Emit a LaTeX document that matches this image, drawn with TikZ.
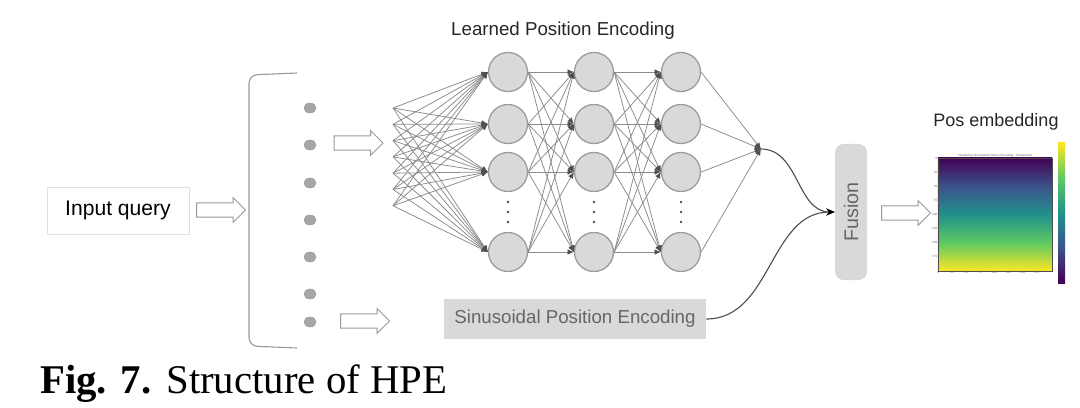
\documentclass[tikz,border=0pt]{standalone}
\usepackage{fontspec}
\setmainfont{Liberation Sans}
\newfontfamily\capfont{Liberation Serif}
\usetikzlibrary{positioning, arrows.meta, shapes.geometric, shapes.arrows}

\definecolor{boxfill}{HTML}{D9D9D9}
\definecolor{edgegray}{HTML}{9A9A9A}
\definecolor{linkgray}{HTML}{8C8C8C}
\definecolor{tipgray}{HTML}{4F4F4F}
\definecolor{textgray}{HTML}{666666}
\definecolor{vpurple}{HTML}{440154}
\definecolor{vblue}{HTML}{3B528B}
\definecolor{vteal}{HTML}{21918C}
\definecolor{vgreen}{HTML}{5EC962}
\definecolor{vyellow}{HTML}{FDE725}

% viridis, purple on top
\pgfdeclareverticalshading{viridisdown}{100bp}{color(0bp)=(vyellow); color(25bp)=(vyellow);
  color(37.5bp)=(vgreen); color(50bp)=(vteal); color(62.5bp)=(vblue);
  color(75bp)=(vpurple); color(100bp)=(vpurple)}
% viridis, yellow on top
\pgfdeclareverticalshading{viridisup}{100bp}{color(0bp)=(vpurple); color(25bp)=(vpurple);
  color(37.5bp)=(vblue); color(50bp)=(vteal); color(62.5bp)=(vgreen);
  color(75bp)=(vyellow); color(100bp)=(vyellow)}

\begin{document}
\begin{tikzpicture}[
    x=0.025cm, y=-0.025cm,
    label/.style={
        font=\fontsize{13.3}{15}\selectfont,
        text=black!85
    },
    inbox/.style={
        draw=black!12,
        minimum width=3.55cm,
        minimum height=1.175cm,
        font=\fontsize{15}{17}\selectfont
    },
    greybox/.style={
        fill=boxfill,
        text=textgray,
        inner sep=0pt
    },
    hollow/.style={
        single arrow,
        draw=edgegray,
        fill=white,
        line width=0.7pt,
        inner xsep=0pt,
        inner ysep=0.165cm,
        minimum height=1.22cm,
        single arrow head extend=0.13cm
    },
    token/.style={
        ellipse,
        draw=edgegray,
        fill=black!35,
        minimum width=0.3cm,
        minimum height=0.25cm,
        inner sep=0pt
    },
    neuron/.style={
        circle,
        draw=edgegray,
        fill=boxfill,
        line width=0.9pt,
        minimum size=0.975cm,
        inner sep=0pt
    },
    link/.style={
        draw=linkgray,
        line width=0.55pt,
        -{Latex[length=4.5pt, width=4pt, color=tipgray]}
    },
    curve/.style={
        draw=tipgray,
        line width=0.8pt,
        -{Stealth[length=6pt, width=5pt, color=black]}
    },
    ticktext/.style={
        font=\fontsize{2.2}{2.4}\selectfont,
        text=black!60,
        inner sep=0.3pt
    }
]
\useasboundingbox (0,0) rectangle (1080,408);

% input side
\node[inbox] (query) at (118,210.5) {Input query};
\node[hollow] (arrA) at (217.5,210) {};
\draw[edgegray, line width=0.8pt, rounded corners=6pt]
    (297,73) -- (249,75) -- (249,346) -- (297,348);

\foreach \i/\yy in {1/108,2/145,3/183,4/220,5/257,6/294,7/322}
    \node[token] (tok\i) at (310,\yy) {};

\node[hollow] (arrB) at (355,143) {};
\node[hollow] (arrC) at (361.5,321) {};

% learned branch
\node[label] (learned) at (563,31) {Learned Position Encoding};

\foreach \i in {1,...,7}
    \coordinate (in\i) at (393,{108+16.3*(\i-1)});

\foreach \c/\xx in {1/508,2/594,3/681}{
    \foreach \r/\yy in {1/72,2/124,3/172,4/252}
        \node[neuron] (n\c\r) at (\xx,\yy) {};
    \foreach \yy in {202,212,222}
        \fill[tipgray] (\xx,\yy) circle[radius=0.035cm];
}

\coordinate (outpt) at (761,149);

\foreach \i in {1,...,7}
    \foreach \r in {1,...,4}
        \draw[link] (in\i) -- (n1\r.west);
\foreach \r in {1,...,4}
    \foreach \s in {1,...,4}{
        \draw[link] (n1\r.east) -- (n2\s.west);
        \draw[link] (n2\r.east) -- (n3\s.west);
    }
\foreach \r in {1,...,4}
    \draw[link] (n3\r.east) -- (outpt);

% sinusoidal branch
\node[greybox, minimum width=6.55cm, minimum height=1cm,
    font=\fontsize{13.3}{15}\selectfont] (sinus) at (575,319)
    {Sinusoidal Position Encoding};

% fusion
\node[greybox, rounded corners=6pt, rotate=90, minimum width=3.4cm,
    minimum height=0.8cm, font=\fontsize{14}{16}\selectfont] (fusion) at (851,212) {Fusion};

\draw[curve] (outpt) to[out=0, in=180] (fusion.north);
\draw[curve] (sinus.east) to[out=0, in=180] (fusion.north);

\node[hollow] (arrD) at (902.5,213) {};

% output embedding
\node[label, font=\fontsize{12.8}{15}\selectfont] (posemb) at (996,122) {Pos embedding};

\node[draw=black!70, line width=0.2pt, shading=viridisdown, inner sep=0pt,
    minimum width=2.85cm, minimum height=2.825cm] (heat) at (995,214.5) {};
\node[shading=viridisup, inner sep=0pt, minimum width=0.175cm,
    minimum height=3.5cm] (cbar) at (1061.5,213) {};

\node[ticktext, anchor=south] (heattitle) at (heat.north)
    {Visualizing Sinusoidal Position Encoding - Channel 64};
\foreach \k/\v in {0/0,1/25,2/50,3/75,4/100,5/125,6/150,7/175}{
    \node[ticktext, anchor=east] (yt\k) at (938,{158+14.1*\k}) {\v};
    \node[ticktext, anchor=north] (xt\k) at ({938+14.1*\k},271) {\v};
}

% caption
\node[anchor=base west, inner sep=0pt, font=\capfont\fontsize{29}{31}\selectfont]
    (caption) at (40,393) {\textbf{Fig. 7.}\hspace{0.37em}Structure of HPE};

\end{tikzpicture}
\end{document}
